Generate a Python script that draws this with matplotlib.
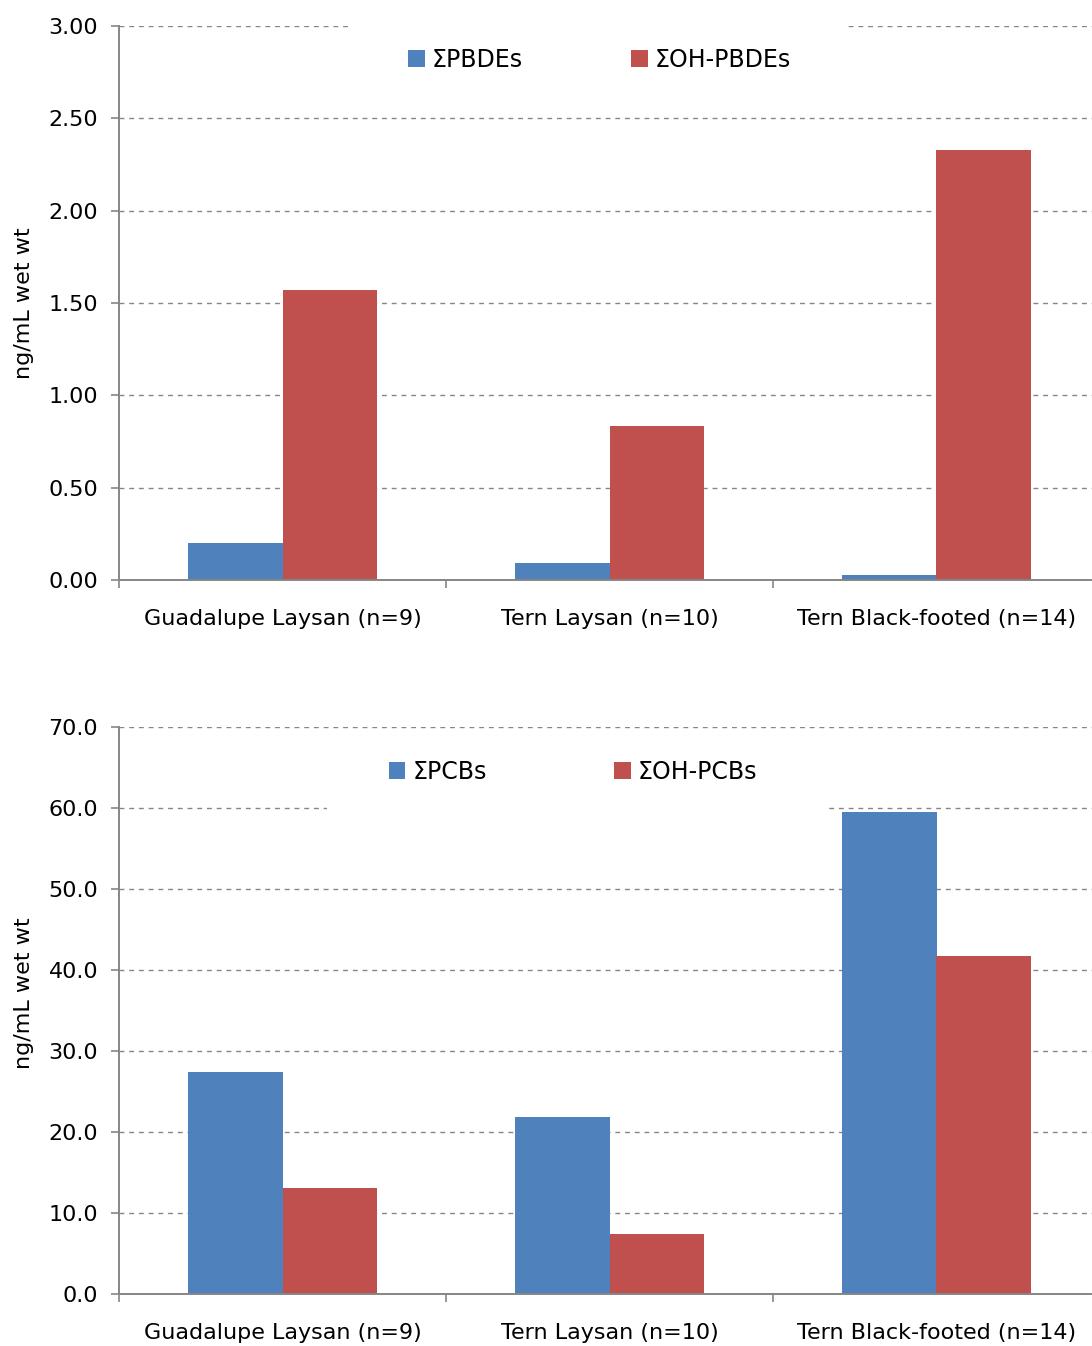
import matplotlib.pyplot as plt
import matplotlib.patches as mpatches
import numpy as np

groups = ['Guadalupe Laysan (n=9)', 'Tern Laysan (n=10)', 'Tern Black-footed (n=14)']
pbde = [0.20, 0.09, 0.027]
oh_pbde = [1.57, 0.835, 2.33]
pcb = [27.4, 21.9, 59.5]
oh_pcb = [13.1, 7.4, 41.7]

blue = '#4F81BD'
red = '#C0504D'
gray = '#868686'

plt.rcParams['font.family'] = ['DejaVu Sans']

W, H = 1092, 1346
fig = plt.figure(figsize=(W / 100, H / 100), dpi=100)


def px(l, t, r, b):
    return [l / W, (H - b) / H, (r - l) / W, (b - t) / H]


def panel(ax, s1, s2, names, ymax, step, fmt, box, leg_anchor, colsp, ylab_y):
    x = np.arange(len(groups))
    w = 0.2875
    ax.bar(x - w / 2, s1, w, color=blue, label=names[0], zorder=2)
    ax.bar(x + w / 2, s2, w, color=red, label=names[1], zorder=2)
    ax.set_xlim(-0.5, len(groups) - 0.5)
    ax.set_ylim(0, ymax)
    ax.set_yticks(np.arange(0, ymax + step / 2, step))
    ax.yaxis.set_major_formatter(plt.FormatStrFormatter(fmt))
    ax.set_xticks(x)
    ax.set_xticklabels(groups)
    ax.set_xticks(np.arange(-0.5, len(groups)), minor=True)
    ax.tick_params(axis='x', which='major', length=0, pad=21, labelsize=16, colors='black')
    ax.tick_params(axis='x', which='minor', length=6, width=1.2, color=gray, direction='out')
    ax.tick_params(axis='y', length=6, width=1.2, color=gray, pad=9, labelsize=16)
    for s in ['top', 'right']:
        ax.spines[s].set_visible(False)
    for s in ['left', 'bottom']:
        ax.spines[s].set_color(gray)
        ax.spines[s].set_linewidth(1.4)
    ax.set_axisbelow(True)
    ax.yaxis.grid(True, color=gray, lw=1.0, ls=(0, (3.5, 3.5)))
    ax.set_ylabel('ng/mL wet wt', fontsize=16)
    ax.yaxis.set_label_coords(-0.087, ylab_y)
    # white legend box that hides the gridlines behind it
    ax.add_patch(mpatches.Rectangle((box[0], box[1]), box[2] - box[0], box[3] - box[1],
                                    transform=ax.transAxes, facecolor='white',
                                    edgecolor='none', zorder=1, clip_on=False))
    ax.legend(loc='center left', bbox_to_anchor=leg_anchor, ncol=2, frameon=False,
              fontsize=17, handlelength=0.7, handleheight=0.7, handletextpad=0.3,
              columnspacing=colsp, borderpad=0, borderaxespad=0)


ax1 = fig.add_axes(px(119, 26, 1100, 580))
panel(ax1, pbde, oh_pbde, ['ΣPBDEs', 'ΣOH-PBDEs'], 3.0, 0.5, '%.2f',
      (0.2365, 0.870, 0.7431, 1.01), (0.2946, 0.9386), 4.6, 0.5)

ax2 = fig.add_axes(px(119, 727, 1100, 1294))
panel(ax2, pcb, oh_pcb, ['ΣPCBs', 'ΣOH-PCBs'], 70.0, 10.0, '%.1f',
      (0.212, 0.845, 0.7197, 0.977), (0.2752, 0.9206), 5.4, 0.53)

fig.savefig('out.png', dpi=100)
